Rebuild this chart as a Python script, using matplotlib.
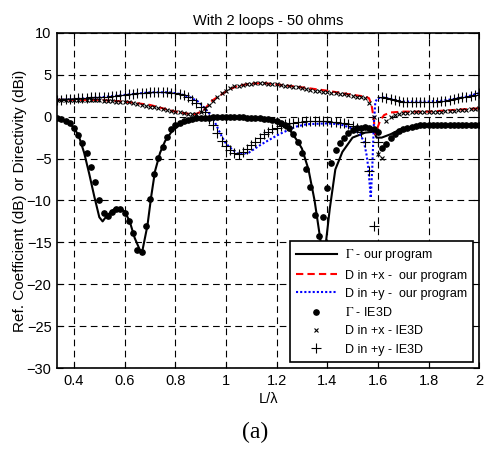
import matplotlib
matplotlib.use("Agg")
import matplotlib.pyplot as plt
import numpy as np

plt.rcParams['font.family'] = ['Liberation Sans', 'DejaVu Sans']
plt.rcParams['mathtext.fontset'] = 'stix'

# "our program" curves
x_gam = [0.333, 0.36, 0.38, 0.40, 0.42, 0.44, 0.46, 0.48, 0.50, 0.513, 0.53, 0.56, 0.58,
         0.60, 0.62, 0.64, 0.66, 0.67, 0.69, 0.705, 0.72, 0.74, 0.76, 0.79, 0.83, 0.88,
         0.95, 1.05, 1.12, 1.17, 1.20, 1.25, 1.28, 1.30, 1.326, 1.35, 1.377, 1.385, 1.393,
         1.41, 1.432, 1.46, 1.50, 1.55, 1.585, 1.595, 1.615, 1.65, 1.69, 1.73, 1.8, 1.9, 2.0]
y_gam = [-0.1, -0.4, -0.8, -1.3, -2.4, -4.3, -6.8, -9.5, -12.0, -12.5, -11.8, -11.0, -10.9,
         -11.3, -12.5, -14.5, -15.9, -16.0, -13.0, -9.5, -6.5, -4.3, -2.9, -1.6, -0.7, -0.25,
         0.0, -0.05, -0.2, -0.4, -0.7, -1.5, -2.8, -3.8, -6.3, -10.0, -15.5, -17.5, -15.5,
         -11.0, -6.3, -4.2, -2.5, -1.9, -1.8, -2.5, -2.5, -2.1, -1.5, -1.3, -1.1, -1.0, -1.0]

x_dx = [0.333, 0.40, 0.50, 0.60, 0.65, 0.70, 0.75, 0.80, 0.85, 0.88, 0.91, 0.945, 0.98, 1.0,
        1.025, 1.05, 1.1, 1.15, 1.2, 1.3, 1.4, 1.5, 1.55, 1.565, 1.575, 1.583, 1.59, 1.60,
        1.61, 1.625, 1.65, 1.7, 1.8, 1.9, 2.0]
y_dx = [2.0, 2.0, 2.0, 1.8, 1.6, 1.4, 1.0, 0.6, 0.35, 0.3, 0.7, 1.9, 2.6, 3.0,
        3.4, 3.7, 3.95, 4.0, 3.85, 3.5, 3.1, 2.6, 2.4, 2.2, 1.4, -0.1, -2.1, -1.2,
        -0.4, 0.2, 0.5, 0.6, 0.6, 0.8, 1.0]

x_dy = [0.333, 0.40, 0.50, 0.60, 0.70, 0.78, 0.82, 0.86, 0.89, 0.905, 0.925, 0.945, 0.965,
        0.984, 1.0, 1.024, 1.05, 1.09, 1.14, 1.21, 1.275, 1.32, 1.40, 1.45, 1.50, 1.53,
        1.545, 1.555, 1.562, 1.572, 1.578, 1.584, 1.59, 1.60, 1.62, 1.65, 1.7, 1.8, 1.85,
        1.9, 1.95, 2.0]
y_dy = [2.0, 2.1, 2.3, 2.6, 2.9, 2.9, 2.7, 2.3, 1.8, 1.4, 0.7, 0.0, -1.2,
        -2.4, -3.2, -3.9, -4.5, -4.3, -3.3, -2.1, -1.2, -0.9, -0.8, -0.9, -1.4, -2.1,
        -3.0, -4.5, -6.0, -9.7, -6.0, -1.0, 1.8, 2.2, 2.3, 2.1, 1.8, 1.8, 1.9,
        2.1, 2.4, 2.8]

# IE3D samples, L/lambda from 20/60 to 120/60
x_ie3d = np.arange(20, 121) / 60
gam_ie3d = [-0.1, -0.3, -0.5, -0.8, -1.3, -2.2, -3.2, -4.3, -6.0, -7.8,
            -10.0, -11.5, -11.9, -11.4, -11.0, -11.0, -11.5, -12.4, -13.9, -15.9,
            -16.1, -13.1, -9.8, -6.9, -4.9, -3.6, -2.4, -1.5, -1.0, -0.7,
            -0.5, -0.35, -0.25, -0.2, -0.15, -0.1, -0.1, -0.05, 0.0, 0.0,
            0.0, 0.0, 0.0, -0.05, -0.05, -0.1, -0.1, -0.15, -0.2, -0.25,
            -0.3, -0.4, -0.5, -0.7, -1.0, -1.4, -2.1, -3.0, -4.3, -6.3,
            -8.4, -11.7, -14.2, -12.0, -8.5, -5.5, -4.0, -3.2, -2.5, -1.9,
            -1.6, -1.4, -1.3, -1.2, -1.3, -1.5, -1.8, -3.7, -3.3, -2.5,
            -2.1, -1.7, -1.5, -1.3, -1.2, -1.1, -1.0, -1.0, -1.0, -1.0,
            -1.0, -1.0, -1.0, -1.0, -1.0, -1.0, -1.0, -1.0, -1.0, -1.0, -1.0]
dx_ie3d = [2.0, 2.0, 2.0, 2.0, 2.0, 2.0, 2.0, 2.0, 2.0, 2.0,
           2.0, 1.9, 1.9, 1.9, 1.8, 1.8, 1.7, 1.7, 1.6, 1.5,
           1.4, 1.3, 1.2, 1.1, 1.0, 0.9, 0.8, 0.7, 0.6, 0.5,
           0.4, 0.35, 0.3, 0.35, 0.6, 1.0, 1.4, 1.9, 2.4, 2.8,
           3.1, 3.4, 3.6, 3.7, 3.8, 3.9, 3.95, 4.0, 4.0, 4.0,
           3.95, 3.9, 3.85, 3.8, 3.7, 3.6, 3.55, 3.5, 3.4, 3.3,
           3.2, 3.1, 3.05, 3.0, 2.9, 2.85, 2.8, 2.7, 2.65, 2.6,
           2.5, 2.4, 2.3, 2.2, 1.6, 0.0, -4.5, -4.9, -0.5, 0.0,
           0.2, 0.3, 0.4, 0.45, 0.5, 0.5, 0.5, 0.5, 0.55, 0.55,
           0.6, 0.6, 0.65, 0.7, 0.7, 0.75, 0.8, 0.85, 0.9, 0.95, 1.0]
dy_ie3d = [2.0, 2.0, 2.1, 2.1, 2.1, 2.2, 2.2, 2.2, 2.3, 2.3,
           2.3, 2.4, 2.4, 2.5, 2.5, 2.6, 2.6, 2.7, 2.7, 2.8,
           2.8, 2.8, 2.9, 2.9, 2.9, 2.9, 2.9, 2.8, 2.8, 2.7,
           2.6, 2.4, 2.0, 1.6, 1.2, 0.5, -0.3, -1.0, -1.9, -2.9,
           -3.5, -4.0, -4.3, -4.4, -4.2, -3.8, -3.4, -3.0, -2.5, -2.1,
           -1.8, -1.5, -1.3, -1.1, -0.9, -0.8, -0.7, -0.6, -0.6, -0.5,
           -0.5, -0.5, -0.5, -0.5, -0.5, -0.6, -0.6, -0.7, -0.8, -0.9,
           -1.1, -1.4, -1.8, -3.0, -6.5, -13.1, -3.0, 2.3, 2.2, 2.1,
           2.0, 1.9, 1.8, 1.8, 1.8, 1.8, 1.8, 1.8, 1.8, 1.8,
           1.8, 1.9, 1.9, 2.0, 2.1, 2.2, 2.3, 2.4, 2.5, 2.6, 2.8]

xticks = [0.4, 0.6, 0.8, 1.0, 1.2, 1.4, 1.6, 1.8, 2.0]
xtick_labels = ['0.4', '0.6', '0.8', '1', '1.2', '1.4', '1.6', '1.8', '2']
yticks = [-30, -25, -20, -15, -10, -5, 0, 5, 10]

fig = plt.figure(figsize=(4.84, 4.5), dpi=100)
ax = fig.add_axes([0.118, 0.182, 0.872, 0.745])

ax.plot(x_gam, y_gam, color='k', lw=1.5, label=r'$\Gamma$ - our program')
ax.plot(x_dx, y_dx, color='red', lw=1.5, ls=(0, (3.5, 2)), label='D in +x -  our program')
ax.plot(x_dy, y_dy, color='blue', lw=1.5, ls=(0, (1, 1)), label='D in +y -  our program')
ax.plot(x_ie3d, gam_ie3d, ls='none', marker='o', ms=3.8, color='k', label=r'$\Gamma$ - IE3D')
ax.plot(x_ie3d, dx_ie3d, ls='none', marker='x', ms=3.5, mew=0.8, color='k', label='D in +x - IE3D')
ax.plot(x_ie3d, dy_ie3d, ls='none', marker='+', ms=6.5, mew=0.8, color='k', label='D in +y - IE3D')

ax.set_xlim(1 / 3, 2)
ax.set_ylim(-30, 10)
ax.set_xticks(xticks)
ax.set_xticklabels(xtick_labels)
ax.set_yticks(yticks)
ax.tick_params(direction='in', length=4, labelsize=10.5, top=True, right=True, pad=4)
ax.grid(True, color='k', ls=(0, (6, 4)), lw=0.8)
for s in ax.spines.values():
    s.set_linewidth(1.2)

ax.set_title('With 2 loops - 50 ohms', fontsize=10.5, pad=6)
ax.set_xlabel('L/λ', fontsize=10.5, labelpad=3)
ax.set_ylabel('Ref. Coefficient (dB) or Directivity (dBi)', fontsize=11, labelpad=0)

leg = ax.legend(loc='lower right', fontsize=9, handlelength=3.3, numpoints=1,
                fancybox=False, framealpha=1, edgecolor='k', labelspacing=0.5,
                borderaxespad=0.5, borderpad=0.5, handletextpad=0.6)
leg.get_frame().set_linewidth(1.2)

fig.text(0.527, 0.04, '(a)', ha='center', va='center', fontsize=17, family='Liberation Serif')

fig.savefig('out.png', dpi=100)
